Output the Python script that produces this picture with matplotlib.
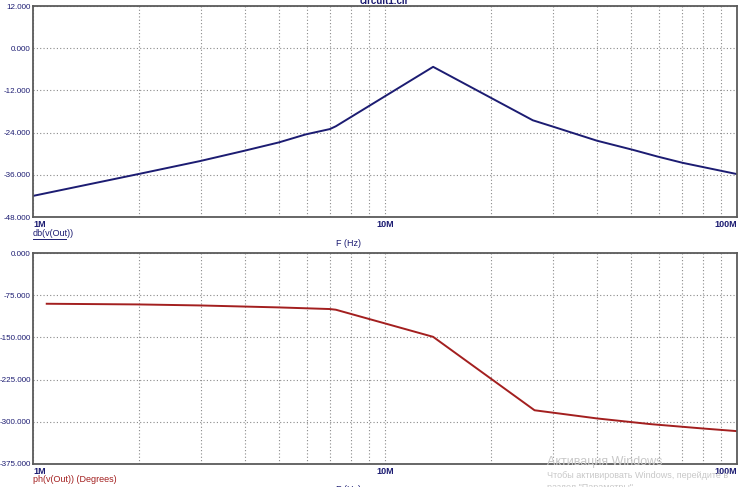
import matplotlib.pyplot as plt
from matplotlib.ticker import LogLocator, NullFormatter

# magnitude trace, db(v(Out))
freq_db = [1.0e6, 1.99e6, 2.98e6, 3.97e6, 4.99e6, 5.96e6, 6.97e6, 7.25e6,
           13.7e6, 26.3e6, 30.0e6, 40.0e6, 50.6e6, 59.4e6, 70.1e6, 100e6]
db_out = [-42.0, -35.8, -32.1, -29.2, -26.8, -24.5, -23.0, -22.2,
          -5.3, -20.5, -22.3, -26.3, -28.9, -30.8, -32.6, -35.8]

# phase trace, ph(v(Out))
freq_ph = [1.094e6, 1.99e6, 2.98e6, 4.99e6, 6.97e6, 7.25e6,
           13.7e6, 26.6e6, 40.0e6, 56.5e6, 80.0e6, 100e6]
ph_out = [-90.2, -91.4, -93.2, -96.7, -99.6, -100.8,
          -149.0, -279.5, -294.0, -304.0, -311.9, -316.6]

db_ticks = [12, 0, -12, -24, -36, -48]
ph_ticks = [0, -75, -150, -225, -300, -375]
x_ticks = [1e6, 1e7, 1e8]
x_labels = ["1M", "10M", "100M"]

navy = "#1c1c72"
dark_red = "#a31f1f"

plt.rcParams['font.family'] = ['Liberation Sans', 'DejaVu Sans']

fig = plt.figure(figsize=(7.54, 4.87), dpi=100)
W, H = 754, 487
ax1 = fig.add_axes([33 / W, 1 - 217 / H, 704 / W, 211 / H])
ax2 = fig.add_axes([33 / W, 1 - 464 / H, 704 / W, 211 / H])


def style(ax, yticks):
    ax.set_xscale('log')
    ax.set_xlim(1e6, 1e8)
    ax.set_ylim(min(yticks), max(yticks))
    ax.set_yticks(yticks, ["%.3f" % v for v in yticks])
    ax.set_xticks(x_ticks, x_labels)
    ax.xaxis.set_minor_locator(LogLocator(base=10, subs=range(2, 10)))
    ax.xaxis.set_minor_formatter(NullFormatter())
    ax.tick_params(axis='both', which='both', length=0, labelcolor=navy)
    ax.tick_params(axis='x', pad=2, labelsize=6.5)
    ax.tick_params(axis='y', pad=1.5, labelsize=5.8)
    labels = ax.get_xticklabels()
    labels[0].set_ha('left')
    labels[-1].set_ha('right')
    for lab in labels:
        lab.set_fontweight('bold')
    ax.grid(True, which='both', axis='x', color='#8a8a8a', linestyle=(0, (1, 2)), linewidth=0.8)
    ax.grid(True, which='major', axis='y', color='#8a8a8a', linestyle=(0, (1, 2)), linewidth=0.8)
    for s in ax.spines.values():
        s.set_color('#5a5a5a')
        s.set_linewidth(1.3)


style(ax1, db_ticks)
style(ax2, ph_ticks)

ax1.plot(freq_db, db_out, color=navy, linewidth=1.4)
ax2.plot(freq_ph, ph_out, color=dark_red, linewidth=1.4)

# title, axis captions and trace names
fig.text(384 / W, 1 - 1 / H, "circuit1.cir", ha='center', va='center',
         fontsize=7, color=navy, fontweight='bold')
fig.text(348 / W, 1 - 244 / H, "F (Hz)", ha='center', va='center',
         fontsize=6.5, color=navy)
fig.text(348 / W, 1 - 490 / H, "F (Hz)", ha='center', va='center',
         fontsize=6.5, color=navy)
fig.text(33 / W, 1 - 234 / H, "db(v(Out))", ha='left', va='center',
         fontsize=6.5, color=navy)
fig.text(33 / W, 1 - 479 / H, "ph(v(Out)) (Degrees)", ha='left', va='center',
         fontsize=6.5, color=dark_red)
fig.add_artist(plt.Line2D([33 / W, 66 / W], [1 - 239 / H, 1 - 239 / H],
                          color=navy, linewidth=0.7))

# activation watermark
fig.text(547 / W, 1 - 462 / H, "Активация Windows", ha='left', va='center',
         fontsize=9, color='#c8c8c8')
fig.text(547 / W, 1 - 476 / H, "Чтобы активировать Windows, перейдите в",
         ha='left', va='center', fontsize=6.5, color='#c8c8c8')
fig.text(547 / W, 1 - 488 / H, "раздел \"Параметры\".",
         ha='left', va='center', fontsize=6.5, color='#c8c8c8')

fig.savefig("out.png", dpi=100)
